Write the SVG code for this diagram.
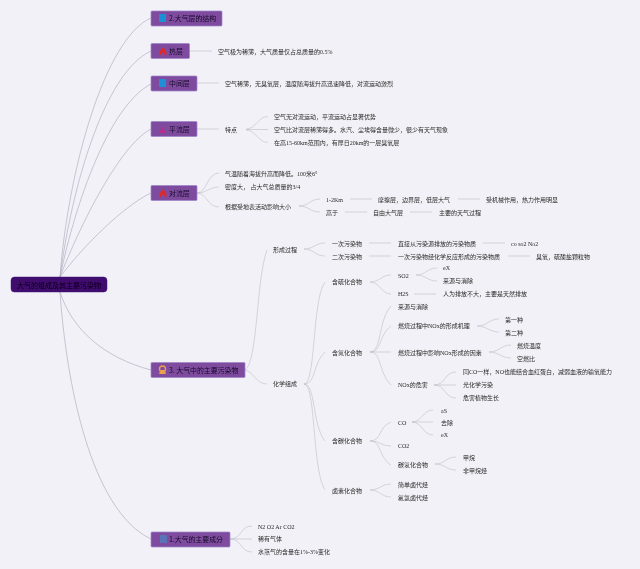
<svg xmlns="http://www.w3.org/2000/svg" width="640" height="569" viewBox="0 0 640 569">
<defs><filter id="soft" x="0" y="0" width="640" height="569" filterUnits="userSpaceOnUse"><feGaussianBlur stdDeviation="0.3"/></filter></defs>
<style>
text{font-family:"Liberation Serif","Noto Sans CJK SC",serif;font-size:6px;fill:#2a2a2a}
.t text,text.t{font-family:"Noto Sans CJK SC","Liberation Sans",sans-serif;font-size:6.9px;fill:#160a28}
.box{fill:#7f4c9f;stroke:#9c86c8;stroke-width:.7}
.root{fill:#3f0a6e;stroke:#4a1a7c;stroke-width:.5}
#connectors path{fill:none;stroke:#c0bec8;stroke-width:.6}
#connectors .main{stroke:#b4b0c2;stroke-width:.7}
</style>
<rect width="640" height="569" fill="#f1f1f7"/>
<g filter="url(#soft)">
<g id="connectors">
<path class="main" d="M60 277C68 170 105 38 151 18"/>
<path class="main" d="M60 277C72 185 105 72 151 51"/>
<path class="main" d="M60 277C76 200 110 105 151 84"/>
<path class="main" d="M60 277C80 225 120 145 151 129"/>
<path class="main" d="M60 277C84 245 125 205 151 193"/>
<path class="main" d="M60 292C72 330 105 358 151 370"/>
<path class="main" d="M60 292C66 380 90 510 151 539"/>
<path d="M190 51H212M197 83H219M197 129H219M246 129C256 129 258 116.500 268 116.500M246 129.500H268M246 130C256 130 258 142.500 268 142.500"/>
<path d="M197 193C207 193 207 173 219 173M197 193C207 193 209 187 219 187M197 193C207 193 207 207 219 207"/>
<path d="M299 206C309 206 310 199 320 199M299 206C309 206 310 212 320 212M350 199H372M458 199H480M345 212H367M410 212H432"/>
<path d="M245 370C258 362 256 280 267 250M245 370C254 372 256 384 267 384"/>
<path d="M304 249C314 249 315 243 325 243M304 249C314 249 315 256 325 256M369 243H391M369 256H391M483 243H505M508 256H530"/>
<path d="M304 384C316 384 312 300 325 282M304 384C316 384 312 365 325 352M304 384C316 384 312 425 325 441M304 384C316 384 312 470 325 490"/>
<path d="M370 282C380 282 381 275 391 275M370 282C380 282 381 294 391 294M416 275C426 275 427 268 437 268M416 275C426 275 427 281 437 281M414 294H436"/>
<path d="M370 352C382 352 378 320 391 306M370 352C382 352 378 336 391 326M370 352H391M370 352C382 352 378 372 391 385"/>
<path d="M477 326C487 326 489 319 499 319M477 326C487 326 489 332 499 332M489 352C499 352 501 345 511 345M489 352C499 352 501 358 511 358"/>
<path d="M434 385C446 385 444 372 456 372M434 385H456M434 385C446 385 444 398 456 398"/>
<path d="M370 441C382 441 378 427 391 422M370 441C380 441 381 446 391 446M370 441C382 441 378 457 391 465"/>
<path d="M412 422C422 422 423 410 433 410M412 422H433M412 422C422 422 423 435 433 435M435 464C445 464 446 457 456 457M435 464C445 464 446 470 456 470"/>
<path d="M370 490C380 490 381 484 391 484M370 490C380 490 381 497 391 497"/>
<path d="M230 539C242 539 240 526 252 526M230 539H252M230 539C242 539 240 552 252 552"/>
</g>
<g id="root"><rect class="root" x="11" y="277" width="96" height="15" rx="3.500"/><text class="t" x="17" y="287.500" style="font-size:7px;fill:#0d0318">大气的组成及其主要污染物</text></g>
<g id="n2" class="t"><rect class="box" x="151" y="11" width="71" height="15" rx="1"/><rect x="159" y="14" width="7" height="8" fill="#1e8fd6"/><text x="169" y="21">2.大气层的结构</text></g>
<g id="thermo" class="t"><rect class="box" x="151" y="43.500" width="38.500" height="15" rx="1"/><path d="M163 47.500C165 49 166.500 51 166.500 53.500V55H164.500C164.500 53 163.500 52.500 163 52.500C162.500 52.500 161.500 53 161.500 55H159.500V53.500C159.500 51 161 49 163 47.500Z" fill="#dc2b2b"/><text x="169" y="53.500">热层</text></g>
<g id="meso" class="t"><rect class="box" x="151" y="76" width="46" height="15" rx="1"/><rect x="159" y="79" width="7" height="8" fill="#1e8fd6"/><text x="169" y="86">中间层</text></g>
<g id="strato" class="t"><rect class="box" x="151" y="121.500" width="46" height="15" rx="1"/><path d="M162.500 126.500L166 133H159Z" fill="#b52f8c"/><text x="169" y="131.500">平流层</text></g>
<g id="tropo" class="t"><rect class="box" x="151" y="185.500" width="46" height="15" rx="1"/><path d="M163 189.500C165 191 166.500 193 166.500 195.500V197H164.500C164.500 195 163.500 194.500 163 194.500C162.500 194.500 161.500 195 161.500 197H159.500V195.500C159.500 193 161 191 163 189.500Z" fill="#dc2b2b"/><text x="169" y="196">对流层</text></g>
<g id="n3" class="t"><rect class="box" x="151" y="362.500" width="94" height="15" rx="1"/><circle cx="162.500" cy="369" r="3" fill="none" stroke="#e8a04c" stroke-width="1.400"/><path d="M159 374H166L164.500 370H160.500Z" fill="#e8a04c"/><text x="169" y="372.500">3. 大气中的主要污染物</text></g>
<g id="n1" class="t"><rect class="box" x="151" y="532" width="79" height="15" rx="1"/><rect x="160" y="535" width="7" height="8" fill="#5a72b8"/><text x="169" y="542">1.大气的主要成分</text></g>
<g id="thermo-leaf"><text x="218" y="53.500">空气极为稀薄，大气质量仅占总质量的0.5%</text></g>
<g id="meso-leaf"><text x="225" y="86">空气稀薄，无臭氧层，温度随海拔升高迅速降低，对流运动激烈</text></g>
<g id="strato-leaf"><text x="225" y="132">特点</text><text x="274" y="119">空气无对流运动，平流运动占显著优势</text><text x="274" y="132">空气比对流层稀薄得多。水汽、尘埃得含量微少，很少有天气现象</text><text x="274" y="145">在高15-60km范围内，有厚日20km的一层臭氧层</text></g>
<g id="tropo-leaf"><text x="225" y="176">气温随着海拔升高而降低。100米6°</text><text x="225" y="189">密度大， 占大气总质量的3/4</text><text x="225" y="209">根据受地表活动影响大小</text><text x="326" y="202">1-2Km</text><text x="326" y="215">高于</text><text x="378" y="202">摩擦层，边界层，低层大气</text><text x="486" y="202">受机械作用，热力作用明显</text><text x="373" y="215">自由大气层</text><text x="439" y="215">主要的天气过程</text></g>
<g id="formation"><text x="273" y="252">形成过程</text><text x="332" y="246">一次污染物</text><text x="332" y="259">二次污染物</text><text x="398" y="246">直接从污染源排放的污染物质</text><text x="511" y="246">co so2 No2</text><text x="398" y="259">一次污染物经化学反应形成的污染物质</text><text x="536" y="259">臭氧，硫酸盐颗粒物</text></g>
<g id="chem"><text x="273" y="386">化学组成</text></g>
<g id="sulfur"><text x="332" y="284">含硫化合物</text><text x="398" y="278">SO2</text><text x="398" y="296">H2S</text><text x="443" y="270">eX</text><text x="443" y="283">来源与消除</text><text x="443" y="296">人为排放不大，主要是天然排放</text></g>
<g id="nitrogen"><text x="332" y="355">含氮化合物</text><text x="398" y="309">来源与消除</text><text x="398" y="328">燃烧过程中NOx的形成机理</text><text x="398" y="355">燃烧过程中影响NOx形成的因素</text><text x="398" y="387">NOx的危害</text><text x="505" y="322">第一种</text><text x="505" y="335">第二种</text><text x="517" y="348">燃烧温度</text><text x="517" y="361">空燃比</text><text x="463" y="374">同CO一样，NO也能结合血红蛋白，减弱血液的输氧能力</text><text x="463" y="387">光化学污染</text><text x="463" y="400">危害植物生长</text></g>
<g id="carbon"><text x="332" y="443">含碳化合物</text><text x="398" y="425">CO</text><text x="398" y="448">CO2</text><text x="398" y="467">碳氢化合物</text><text x="441" y="413">aS</text><text x="441" y="425">去除</text><text x="441" y="437">eX</text><text x="463" y="460">甲烷</text><text x="463" y="473">非甲烷烃</text></g>
<g id="halogen"><text x="332" y="493">卤素化合物</text><text x="398" y="487">简单卤代烃</text><text x="398" y="500">氟氯卤代烃</text></g>
<g id="n1-leaf"><text x="258" y="529">N2 O2 Ar CO2</text><text x="258" y="541">稀有气体</text><text x="258" y="554">水蒸气的含量在1%-3%变化</text></g>
</g>
</svg>
